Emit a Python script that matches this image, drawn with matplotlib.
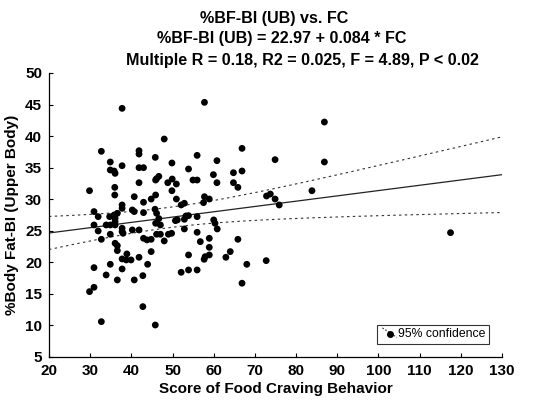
import numpy as np
import matplotlib
matplotlib.use("Agg")
import matplotlib.pyplot as plt
from matplotlib.lines import Line2D
from matplotlib.legend_handler import HandlerBase

plt.rcParams['font.family'] = ['Liberation Sans', 'DejaVu Sans']

# --- data ---
fc = [37.75, 57.75, 47.98, 32.71, 41.86, 41.86, 45.81, 55.97, 60.78, 34.88,
      37.75, 49.85, 41.86, 42.95, 53.88, 34.88, 35.81, 36.05, 59.92, 46.67,
      46.12, 45.89, 49.92, 48.84, 50.93, 54.96, 55.97, 41.86, 60.78, 29.84,
      35.97, 49.85, 35.97, 40.70, 44.81, 45.89, 57.75, 58.92, 50.93,
      42.95, 52.09, 52.87, 57.52, 37.75, 37.75, 40.23, 40.70, 30.93, 31.94,
      34.73, 35.81, 36.59, 42.95, 45.74, 46.12, 46.67, 36.05, 36.05, 53.26,
      53.88, 52.87, 55.97, 60.00, 60.31, 30.93, 33.88, 34.88, 36.05, 45.89,
      47.05, 50.70, 51.16, 37.75, 37.75, 37.98, 40.23, 41.86, 31.94, 52.87,
      60.85, 55.97, 34.88, 32.71, 42.95, 43.80, 44.81, 46.12, 47.05, 48.99,
      49.77, 47.98, 58.92, 56.74, 36.05, 36.59, 36.59, 44.81, 38.91, 53.88,
      58.92, 57.91, 57.67, 62.95, 41.86, 37.75, 38.76, 39.92, 34.88, 43.95,
      30.93, 37.75, 53.88, 55.97, 52.09, 33.88, 42.79, 36.59, 40.70, 30.93,
      29.84, 42.79, 32.71, 45.81,
      86.87, 66.87, 74.90, 86.87, 64.79, 66.87, 64.79, 65.87, 83.85, 72.82,
      73.74, 74.90, 75.90, 65.87, 64.01, 68.03, 72.74, 66.87, 58.92, 117.5]
bf = [44.40, 45.35, 39.54, 37.59, 37.69, 37.16, 36.63, 36.95, 36.11, 35.90,
      35.31, 35.74, 35.00, 35.00, 34.79, 34.63, 34.47, 34.10, 33.89, 33.62,
      33.25, 33.04, 33.20, 32.62, 32.41, 33.04, 33.04, 32.62, 32.62, 31.35,
      31.88, 31.35, 30.67, 30.40, 30.03, 30.67, 30.40, 30.03, 30.03,
      29.52, 29.09, 29.36, 29.46, 29.09, 28.56, 28.30, 28.04, 28.04, 27.24,
      27.24, 27.50, 27.77, 27.88, 28.41, 27.77, 26.93, 26.98, 26.45, 27.35,
      27.40, 26.82, 27.24, 26.72, 26.19, 25.92, 25.92, 25.92, 25.92, 26.19,
      25.92, 26.61, 26.72, 25.40, 24.87, 24.60, 25.13, 25.13, 24.97, 25.29,
      25.29, 24.76, 24.45, 23.65, 23.81, 23.55, 23.65, 24.45, 24.45, 24.45,
      24.60, 23.39, 23.81, 23.28, 23.02, 22.65, 21.86, 21.70, 21.33, 21.17,
      21.17, 20.90, 20.48, 20.80, 20.80, 20.54, 20.38, 20.38, 19.69, 19.69,
      19.16, 18.95, 18.79, 18.79, 18.42, 18.00, 17.89, 17.21, 17.21, 16.05,
      15.36, 12.98, 10.60, 10.07,
      42.23, 38.06, 36.27, 35.90, 34.20, 34.47, 32.62, 31.88, 31.35, 30.51,
      30.82, 30.03, 29.09, 23.65, 21.70, 19.69, 20.27, 16.69, 22.38, 24.70]

# regression as printed in the title
intercept = 22.97
slope = 0.084
# confidence band (hyperbola)
ci_center = 49.0
ci_min_half = 1.61
ci_spread = 0.00509

x_ticks = [20, 30, 40, 50, 60, 70, 80, 90, 100, 110, 120, 130]
y_ticks = [5, 10, 15, 20, 25, 30, 35, 40, 45, 50]

title_lines = ["%BF-BI (UB) vs. FC",
               "%BF-BI (UB) = 22.97 + 0.084 * FC",
               "Multiple R = 0.18, R2 = 0.025, F = 4.89, P < 0.02"]

fig = plt.figure(figsize=(5.47, 4.04), dpi=100)
ax = fig.add_axes([49/547, 1-357/404, (502-49)/547, (357-73)/404])

ax.scatter(fc, bf, s=24, c='black', edgecolors='none', zorder=3)

xs = np.linspace(20, 130, 200)
fit = intercept + slope * xs
half = np.sqrt(ci_min_half**2 + ci_spread * (xs - ci_center)**2)
ax.plot(xs, fit, color='#222222', lw=0.9, zorder=2)
ax.plot(xs, fit + half, color='#333333', lw=0.8, ls=(0, (2.2, 3)), zorder=2)
ax.plot(xs, fit - half, color='#333333', lw=0.8, ls=(0, (2.2, 3)), zorder=2)

ax.set_xlim(20, 130)
ax.set_ylim(5, 50)
ax.set_xticks(x_ticks)
ax.set_yticks(y_ticks)
for lab in ax.get_xticklabels() + ax.get_yticklabels():
    lab.set_fontweight('bold')
    lab.set_fontsize(11)
ax.tick_params(direction='in', length=3, width=0.8, pad=5)
ax.spines['top'].set_visible(False)
ax.spines['right'].set_visible(False)
for s in ('left', 'bottom'):
    ax.spines[s].set_linewidth(0.9)

ax.set_xlabel("Score of Food Craving Behavior", fontsize=11, fontweight='bold', labelpad=3)
ax.set_ylabel("%Body Fat-BI (Upper Body)", fontsize=11, fontweight='bold', labelpad=4)

title_pos = [(274, 18), (282, 39), (302, 60)]
for txt, (px, py) in zip(title_lines, title_pos):
    fig.text(px/547, 1-py/404, txt, ha='center', va='center',
             fontsize=11.6, fontweight='bold')


class DiagHandler(HandlerBase):
    def create_artists(self, legend, orig_handle, xdescent, ydescent,
                       width, height, fontsize, trans):
        x0, x1 = -xdescent, width - xdescent
        y0, y1 = -ydescent, height - ydescent
        ln = Line2D([x0 + 0.1*(x1-x0), x1], [y1 + 0.1*(y1-y0), y0],
                    color='#333333', lw=0.8, ls=(0, (1.5, 1.5)), transform=trans)
        dot = Line2D([x0 + 0.6*(x1-x0)], [y0 + 0.35*(y1-y0)], marker='o',
                     ms=4, color='black', ls='none', transform=trans)
        return [ln, dot]


h = Line2D([], [], color='k')
leg = ax.legend([h], ["95% confidence"], handler_map={Line2D: DiagHandler()},
                loc='lower right', bbox_to_anchor=((489-49)/453, (357-344)/284),
                frameon=True, fancybox=False, edgecolor='black', fontsize=8.8,
                handlelength=1.3, handletextpad=0.1, borderpad=0.3,
                borderaxespad=0)
leg.get_frame().set_linewidth(0.8)

fig.savefig("out.png", dpi=100)
